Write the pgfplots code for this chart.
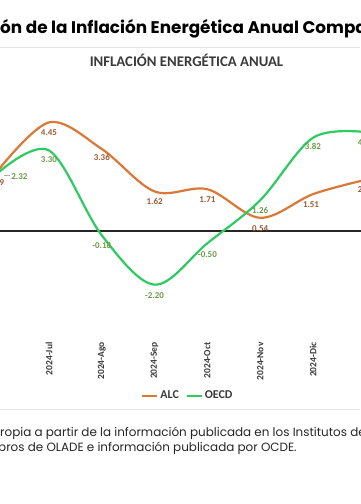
\documentclass[border=0pt]{standalone}
\usepackage{pgfplots}
\pgfplotsset{compat=1.18}
\usepackage{pgfplotstable}
\usetikzlibrary{backgrounds}
\usepackage{fontspec}
\setmainfont{Carlito}
\newfontfamily\poppins{Poppins}
\definecolor{alc}{HTML}{DA7838}
\definecolor{alclab}{HTML}{9A5B34}
\definecolor{oecd}{HTML}{2ECB63}
\definecolor{oecdlab}{HTML}{6A9C45}
\definecolor{txtgray}{HTML}{3A3A3A}
\definecolor{sepgray}{HTML}{E4E4E4}

\pgfplotstableread{
x y dx dy lab
0 2.39 0 -10 2.39
1 4.45 0 -10 4.45
2 3.36 0 -9 3.36
3 1.62 0 -10.5 1.62
4 1.71 0 -10 1.71
5 0.54 0 -11 0.54
6 1.51 -2 -11 1.51
7 2.10 0 -10 2.10
}\alcdata

\pgfplotstableread{
x y dx dy lab
0 2.32 23.3 -2.6 2.32
1 3.30 0 -9.5 3.30
2 -0.18 0 -10 -0.18
3 -2.20 0 -11 -2.20
4 -0.50 0 -11 -0.50
5 1.26 0 -10.5 1.26
6 3.82 0 -9 3.82
7 4.05 0 -10 4.05
}\oecddata

\begin{document}
\begin{tikzpicture}
\begin{axis}[
  x=52.8bp, y=24.4bp,
  xmin=-1.2, xmax=8.2, ymin=-4.22, ymax=6,
  axis line style={draw=none},
  major tick length=0pt,
  ytick=\empty,
  xtick={0,...,7},
  xticklabels={2024-Jun,2024-Jul,2024-Ago,2024-Sep,2024-Oct,2024-Nov,2024-Dic,2025-Ene},
  xticklabel shift=5bp,
  xticklabel style={rotate=90, anchor=east, font=\fontsize{9.5}{11}\selectfont\bfseries, text=txtgray},
  extra y ticks={0},
  extra y tick labels={},
  extra y tick style={grid=major, major grid style={draw=black!85, line width=2bp}},
  legend style={at={(0.514,-0.247)}, anchor=center, draw=none, fill=none,
    font=\fontsize{12}{14}\selectfont\bfseries, text=txtgray,
    legend columns=2, /tikz/every even column/.append style={column sep=5bp}},
  legend image code/.code={\draw[#1, line width=2bp] (0,0) -- (15bp,0);},
]
\addplot[alc, line width=2.2bp, smooth, tension=0.55,
  point meta=explicit symbolic,
  visualization depends on={\thisrow{dx} \as \dx},
  visualization depends on={\thisrow{dy} \as \dy},
  nodes near coords,
  nodes near coords style={anchor=center, xshift=\dx pt, yshift=\dy pt, inner sep=0pt,
    font=\fontsize{9}{10}\selectfont\bfseries, text=alclab}]
  table[x=x, y=y, meta=lab] {\alcdata};
\addlegendentry{ALC}
\addplot[oecd, line width=2.2bp, smooth, tension=0.55,
  point meta=explicit symbolic,
  visualization depends on={\thisrow{dx} \as \dx},
  visualization depends on={\thisrow{dy} \as \dy},
  nodes near coords,
  nodes near coords style={anchor=center, xshift=\dx pt, yshift=\dy pt, inner sep=0pt,
    font=\fontsize{9}{10}\selectfont\bfseries, text=oecdlab}]
  table[x=x, y=y, meta=lab] {\oecddata};
\addlegendentry{OECD}
\draw[gray!60, line width=0.6bp] (axis cs:0.148,2.30) -- (axis cs:0.261,2.30);
\coordinate (BL) at (axis cs:0.07197,-11.189);
\end{axis}
\pgfresetboundingbox
\begin{scope}[shift={(BL)}, x=1bp, y=1bp]
\useasboundingbox (0,0) rectangle (360,504);
\begin{scope}[on background layer]
\fill[white] (0,0) rectangle (360,504);
\end{scope}
% main title
\node[anchor=base west, inner sep=0pt, text=black] at (0,470.7)
  {\poppins\fontsize{16.9}{20}\selectfont\bfseries \llap{Evoluci}ón de la Inflación Energética Anual Compa\rlap{rativa}};
\draw[sepgray, line width=1bp] (0,456) -- (360,456);
% chart title
\node[anchor=base, inner sep=0pt, text=txtgray] at (186.5,437.3)
  {\fontsize{14.8}{16}\selectfont\bfseries INFLACIÓN ENERGÉTICA ANUAL};
\draw[sepgray, line width=1bp] (0,95) -- (360,95);
% source
\node[anchor=base west, inner sep=0pt, text=black!85] at (0,68)
  {\poppins\fontsize{12}{14}\selectfont \llap{Fuente: Elaboración p}ropia a partir de la información publicada en los Institutos de Estadística};
\node[anchor=base west, inner sep=0pt, text=black!85] at (-2,52.5)
  {\poppins\fontsize{12}{14}\selectfont \llap{países miem}bros de OLADE e información publicada por OCDE.};
\end{scope}
\end{tikzpicture}
\end{document}
